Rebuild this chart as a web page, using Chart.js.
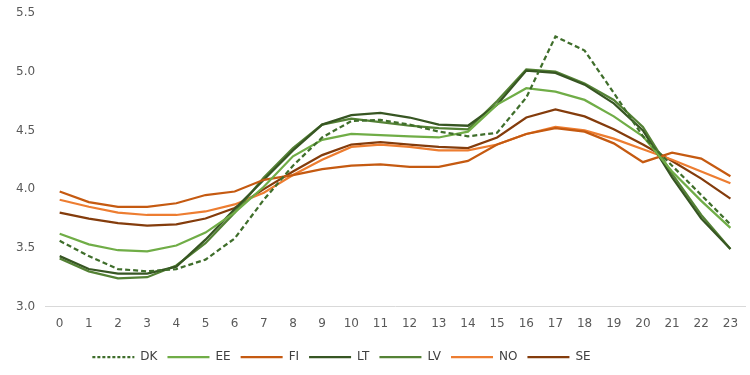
<!DOCTYPE html>
<html>
<head>
<meta charset="utf-8">
<script src="https://cdn.jsdelivr.net/npm/chart.js@4/dist/chart.umd.min.js"></script>
<style>
  html, body { margin: 0; padding: 0; background: #fff; }
  #wrap { width: 750px; height: 375px; }
</style>
</head>
<body>
<div id="wrap"><canvas id="grafico"></canvas></div>
<script>
// horas del día
const hours = ['0','1','2','3','4','5','6','7','8','9','10','11','12','13','14','15','16','17','18','19','20','21','22','23'];

const dk = [3.56, 3.43, 3.32, 3.30, 3.32, 3.40, 3.58, 3.91, 4.20, 4.44, 4.58, 4.59, 4.55, 4.49, 4.45, 4.48, 4.78, 5.30, 5.18, 4.82, 4.45, 4.20, 3.95, 3.70];
const ee = [3.62, 3.53, 3.48, 3.47, 3.52, 3.63, 3.80, 4.02, 4.28, 4.42, 4.47, 4.46, 4.45, 4.44, 4.49, 4.72, 4.86, 4.83, 4.76, 4.62, 4.45, 4.15, 3.90, 3.67];
const fi = [3.98, 3.89, 3.85, 3.85, 3.88, 3.95, 3.98, 4.08, 4.12, 4.17, 4.20, 4.21, 4.19, 4.19, 4.24, 4.38, 4.47, 4.52, 4.49, 4.39, 4.23, 4.31, 4.26, 4.11];
const lt = [3.43, 3.32, 3.28, 3.28, 3.34, 3.57, 3.83, 4.08, 4.33, 4.55, 4.63, 4.65, 4.61, 4.55, 4.54, 4.72, 5.01, 4.99, 4.89, 4.73, 4.50, 4.10, 3.75, 3.49];
const lv = [3.41, 3.30, 3.24, 3.25, 3.35, 3.54, 3.80, 4.10, 4.35, 4.55, 4.60, 4.57, 4.54, 4.52, 4.51, 4.75, 5.02, 5.00, 4.90, 4.76, 4.53, 4.13, 3.78, 3.49];
const no = [3.91, 3.85, 3.80, 3.78, 3.78, 3.81, 3.87, 3.97, 4.12, 4.25, 4.36, 4.38, 4.36, 4.33, 4.33, 4.38, 4.47, 4.53, 4.50, 4.43, 4.34, 4.25, 4.15, 4.05];
const se = [3.80, 3.75, 3.71, 3.69, 3.70, 3.75, 3.84, 4.00, 4.15, 4.29, 4.38, 4.40, 4.38, 4.36, 4.35, 4.44, 4.61, 4.68, 4.62, 4.51, 4.38, 4.24, 4.09, 3.92];

const yTicks = [3.0, 3.5, 4.0, 4.5, 5.0, 5.5];

function serie(label, data, color, dash) {
    return {
        label: label,
        data: data,
        borderColor: color,
        backgroundColor: color,
        borderWidth: 2.25,
        borderDash: dash || [],
        pointRadius: 0,
        pointHoverRadius: 0,
        tension: 0,
        fill: false
    };
}

// mueve la leyenda un poco a la izquierda, como en el original
const moverLeyenda = {
    id: 'moverLeyenda',
    afterLayout(chart) {
        chart.legend.left -= 34;
        chart.legend.right -= 34;
    }
};

Chart.defaults.font.family = "'DejaVu Sans', sans-serif";
Chart.defaults.color = '#595959';

const ctx = document.getElementById('grafico').getContext('2d');
new Chart(ctx, {
    type: 'line',
    data: {
        labels: hours,
        datasets: [
            serie('DK', dk, '#3f6e2b', [5, 3]),
            serie('EE', ee, '#70ad47'),
            serie('FI', fi, '#c55a11'),
            serie('LT', lt, '#375623'),
            serie('LV', lv, '#548235'),
            serie('NO', no, '#ed7d31'),
            serie('SE', se, '#843c0c')
        ]
    },
    plugins: [moverLeyenda],
    options: {
        responsive: true,
        maintainAspectRatio: false,
        animation: false,
        layout: {
            padding: { left: 6, right: 5, top: 8, bottom: 2 }
        },
        plugins: {
            legend: {
                position: 'bottom',
                labels: {
                    usePointStyle: true,
                    pointStyle: 'line',
                    pointStyleWidth: 42,
                    padding: 10,
                    font: { size: 12 },
                    color: '#404040',
                    generateLabels: (chart) => {
                        const items = Chart.defaults.plugins.legend.labels.generateLabels(chart);
                        return items.map(it => {
                            const ds = chart.data.datasets[it.datasetIndex];
                            it.lineWidth = 2.25;
                            it.strokeStyle = ds.borderColor;
                            it.lineDash = ds.borderDash.length ? [3, 2] : [];
                            return it;
                        });
                    }
                }
            },
            tooltip: { enabled: false }
        },
        scales: {
            x: {
                offset: true,
                grid: { display: false, drawTicks: false },
                border: { color: '#d9d9d9', width: 1 },
                ticks: {
                    padding: 10,
                    maxRotation: 0,
                    font: { size: 12 }
                }
            },
            y: {
                min: 3,
                max: 5.5,
                afterBuildTicks: (axis) => {
                    axis.ticks = yTicks.map(v => ({ value: v }));
                },
                grid: { display: false, drawTicks: false },
                border: { display: false },
                ticks: {
                    padding: 10,
                    font: { size: 12, lineHeight: 0.5 },
                    callback: (v) => Number(v).toFixed(1)
                }
            }
        }
    }
});
</script>
</body>
</html>
